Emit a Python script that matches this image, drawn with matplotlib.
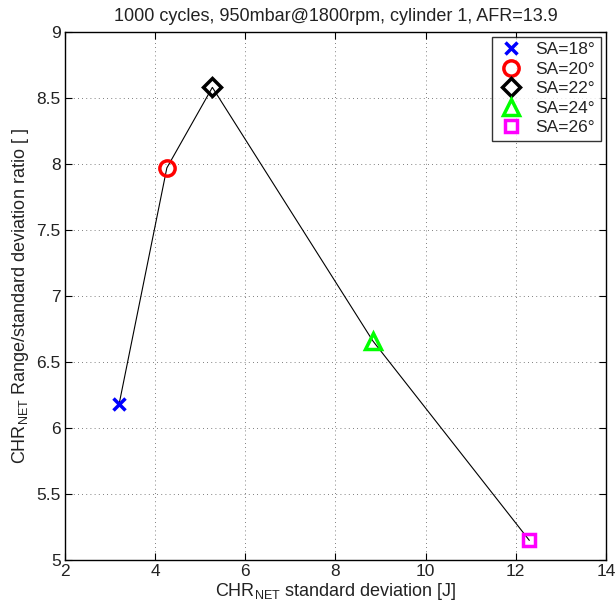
import matplotlib
matplotlib.use('Agg')
import matplotlib.pyplot as plt

plt.rcParams['font.family'] = ['Liberation Sans', 'DejaVu Sans']
plt.rcParams['mathtext.fontset'] = 'custom'
plt.rcParams['mathtext.rm'] = 'Liberation Sans'
plt.rcParams['text.color'] = '#222222'
plt.rcParams['axes.labelcolor'] = '#222222'
plt.rcParams['xtick.labelcolor'] = '#222222'
plt.rcParams['ytick.labelcolor'] = '#222222'

labels = ['SA=18°', 'SA=20°', 'SA=22°', 'SA=24°', 'SA=26°']
std_dev = [3.2, 4.26, 5.27, 8.83, 12.3]
ratio = [6.18, 7.97, 8.58, 6.66, 5.15]
markers = ['x', 'o', 'D', '^', 's']
colors = ['#0000ff', '#ff0000', '#000000', '#00ff00', '#ff00ff']
sizes = [8, 11, 9, 12, 9]

fig = plt.figure(figsize=(6.16, 6.07), dpi=100)
ax = fig.add_axes([0.1055, 0.0774, 0.878, 0.870])

ax.plot(std_dev, ratio, color='k', lw=0.8, zorder=2)
for x, y, m, c, s, lab in zip(std_dev, ratio, markers, colors, sizes, labels):
    ax.plot(x, y, ls='none', marker=m, ms=s, mew=2.5, mec=c,
            mfc='none' if m != 'x' else c, label=lab, zorder=3)

ax.set_xlim(2, 14)
ax.set_ylim(5, 9)
ax.set_xticks(range(2, 15, 2))
ax.set_yticks([5, 5.5, 6, 6.5, 7, 7.5, 8, 8.5, 9])
ax.set_yticklabels(['5', '5.5', '6', '6.5', '7', '7.5', '8', '8.5', '9'])
ax.grid(True, ls=(0, (1, 4)), color='#555555', lw=0.6)
ax.tick_params(direction='in', top=True, right=True, labelsize=12.5, length=5, pad=3)
for sp in ax.spines.values():
    sp.set_linewidth(1.0)

ax.set_xlabel(r'CHR$_{\mathrm{NET}}$ standard deviation [J]', fontsize=13, labelpad=1)
ax.set_ylabel(r'CHR$_{\mathrm{NET}}$ Range/standard deviation ratio [ ]', fontsize=13, labelpad=4)
ax.set_title('1000 cycles, 950mbar@1800rpm, cylinder 1, AFR=13.9', fontsize=13, pad=8)

leg = ax.legend(loc='upper right', fontsize=12.5, frameon=True, fancybox=False,
                edgecolor='k', borderaxespad=0.3, handletextpad=0.6,
                labelspacing=0.25, handlelength=1.6, borderpad=0.3)
leg.get_frame().set_linewidth(1.0)

fig.savefig('out.png', dpi=100)
